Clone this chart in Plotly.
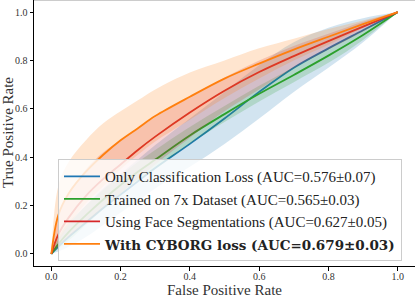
import plotly.graph_objects as go

fpr = [0, 0.02, 0.05, 0.1, 0.15, 0.2, 0.25, 0.3, 0.4, 0.5, 0.6, 0.7, 0.8, 0.9, 1.0]

blue_mean = [0, 0.03, 0.07, 0.13, 0.19, 0.245, 0.3, 0.355, 0.455, 0.56, 0.67, 0.77, 0.85, 0.925, 1.0]
blue_up = [0, 0.06, 0.12, 0.2, 0.27, 0.33, 0.39, 0.45, 0.56, 0.67, 0.78, 0.875, 0.935, 0.975, 1.0]
blue_lo = [0, 0.01, 0.03, 0.07, 0.12, 0.17, 0.22, 0.27, 0.36, 0.455, 0.56, 0.67, 0.77, 0.875, 1.0]

green_mean = [0, 0.04, 0.09, 0.16, 0.225, 0.285, 0.34, 0.39, 0.49, 0.578, 0.662, 0.74, 0.82, 0.905, 1.0]
green_up = [0, 0.07, 0.13, 0.2, 0.265, 0.325, 0.38, 0.43, 0.525, 0.612, 0.695, 0.772, 0.848, 0.925, 1.0]
green_lo = [0, 0.02, 0.055, 0.12, 0.185, 0.245, 0.30, 0.35, 0.455, 0.545, 0.63, 0.71, 0.79, 0.885, 1.0]

red_mean = [0, 0.08, 0.15, 0.24, 0.31, 0.37, 0.43, 0.485, 0.585, 0.675, 0.752, 0.818, 0.88, 0.94, 1.0]
red_up = [0, 0.16, 0.25, 0.35, 0.42, 0.47, 0.52, 0.565, 0.65, 0.73, 0.80, 0.86, 0.91, 0.96, 1.0]
red_lo = [0, 0.03, 0.07, 0.13, 0.19, 0.25, 0.31, 0.37, 0.48, 0.59, 0.68, 0.77, 0.845, 0.92, 1.0]

orange_mean = [0, 0.16, 0.25, 0.34, 0.41, 0.47, 0.52, 0.57, 0.65, 0.725, 0.787, 0.845, 0.898, 0.95, 1.0]
orange_up = [0, 0.28, 0.38, 0.47, 0.54, 0.59, 0.635, 0.68, 0.75, 0.80, 0.85, 0.89, 0.93, 0.965, 1.0]
orange_lo = [0, 0.05, 0.12, 0.21, 0.28, 0.35, 0.41, 0.465, 0.555, 0.645, 0.725, 0.80, 0.865, 0.935, 1.0]

names = [
    "Only Classification Loss (AUC=0.576±0.07)",
    "Trained on 7x Dataset (AUC=0.565±0.03)",
    "Using Face Segmentations (AUC=0.627±0.05)",
    "<span style=\"font-family:'DejaVu Serif';font-size:13.5px;font-weight:bold\">With CYBORG loss (AUC=0.679±0.03)</span>",
]
colors = ["31,119,180", "44,160,44", "214,39,40", "255,127,14"]
series = [
    (blue_mean, blue_up, blue_lo),
    (green_mean, green_up, green_lo),
    (red_mean, red_up, red_lo),
    (orange_mean, orange_up, orange_lo),
]

fig = go.Figure()
for i, (name, col, (m, up, lo)) in enumerate(zip(names, colors, series)):
    fig.add_trace(go.Scatter(x=fpr, y=lo, mode="lines", line=dict(width=0, shape="spline"),
                             showlegend=False, hoverinfo="skip", legendgroup=f"g{i}"))
    fig.add_trace(go.Scatter(x=fpr, y=up, mode="lines", line=dict(width=0, shape="spline"),
                             fill="tonexty", fillcolor=f"rgba({col},0.2)",
                             showlegend=False, hoverinfo="skip", legendgroup=f"g{i}"))
    fig.add_trace(go.Scatter(x=fpr, y=m, mode="lines", name=name, legendgroup=f"g{i}",
                             line=dict(color=f"rgb({col})", width=1.8, shape="spline")))

serif = "Liberation Serif"
fig.update_layout(
    width=415, height=297,
    margin=dict(l=34, r=0, t=0, b=31),
    plot_bgcolor="white", paper_bgcolor="white",
    font=dict(family=serif, color="black"),
    legend=dict(x=0.063, y=0.402, xanchor="left", yanchor="top", traceorder="normal",
                tracegroupgap=1, itemwidth=36,
                bgcolor="rgba(255,255,255,0.8)", bordercolor="#cccccc", borderwidth=1,
                font=dict(family=serif, size=15, color="#222222")),
    shapes=[dict(type="line", xref="paper", yref="paper", x0=0, x1=1, y0=1, y1=1,
                 line=dict(color="#999999", width=1))],
    annotations=[
        dict(text="False Positive Rate", xref="paper", yref="paper", x=0.5, y=-0.089,
             xanchor="center", yanchor="middle", showarrow=False,
             font=dict(size=15, family=serif, color="#333333")),
        dict(text="True Positive Rate", xref="paper", yref="paper", x=-0.068, y=0.5,
             xanchor="center", yanchor="middle", showarrow=False, textangle=-90,
             font=dict(size=15, family=serif, color="#333333")),
    ],
)
fig.update_xaxes(range=[-0.05, 1.05], tickvals=[0, 0.2, 0.4, 0.6, 0.8, 1.0],
                 ticktext=["0.0", "0.2", "0.4", "0.6", "0.8", "1.0"], automargin=False,
                 showgrid=False, zeroline=False, showline=True, linecolor="black", linewidth=1,
                 ticks="outside", ticklen=3.5, tickcolor="black", ticklabelstandoff=-3,
                 tickfont=dict(size=10, family=serif, color="#333333"))
fig.update_yaxes(range=[-0.05, 1.05], tickvals=[0, 0.2, 0.4, 0.6, 0.8, 1.0],
                 ticktext=["0.0", "0.2", "0.4", "0.6", "0.8", "1.0"], automargin=False,
                 showgrid=False, zeroline=False, showline=True, linecolor="black", linewidth=1,
                 ticks="outside", ticklen=3.5, tickcolor="black",
                 tickfont=dict(size=10, family=serif, color="#333333"))

fig.write_html("out.html", config={"displayModeBar": False},
               post_script="document.body.style.margin='0';")
